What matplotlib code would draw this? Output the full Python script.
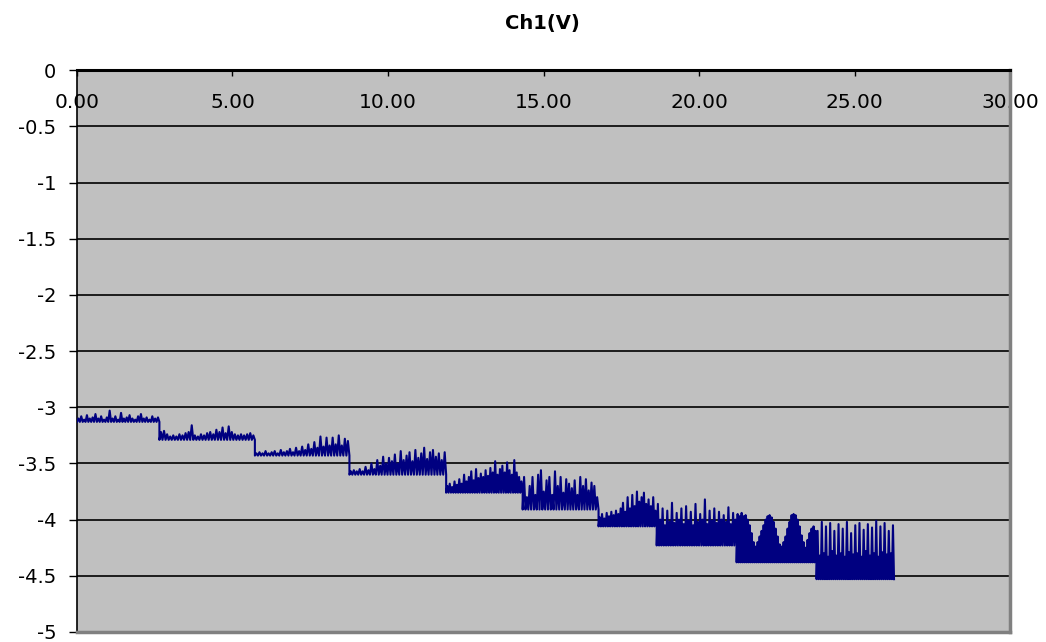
import numpy as np
import matplotlib
matplotlib.use("Agg")
import matplotlib.pyplot as plt

plt.rcParams['font.family'] = ['DejaVu Sans']

# step segments: start time, end time, baseline (lower edge) level
seg_start = [0.00, 2.65, 5.72, 8.76, 11.87, 14.33, 16.77, 18.64, 21.21, 23.78]
seg_end = [2.65, 5.72, 8.76, 11.87, 14.33, 16.77, 18.64, 21.21, 23.78, 26.27]
seg_base = [-3.13, -3.29, -3.43, -3.60, -3.76, -3.91, -4.06, -4.23, -4.38, -4.53]

# spike tops, segment by segment
tops_1 = [-3.10, -3.08, -3.11, -3.07, -3.10, -3.09, -3.06, -3.10, -3.08, -3.11,
          -3.09, -3.03, -3.10, -3.08, -3.11, -3.05, -3.10, -3.09, -3.07, -3.10,
          -3.11, -3.08, -3.06, -3.10, -3.09, -3.11, -3.08, -3.10, -3.09]
tops_2 = [-3.22, -3.21, -3.24, -3.26, -3.25, -3.26, -3.24, -3.25, -3.23, -3.22,
          -3.16, -3.25, -3.26, -3.24, -3.25, -3.23, -3.22, -3.24, -3.20, -3.22,
          -3.18, -3.23, -3.17, -3.22, -3.24, -3.25, -3.24, -3.25, -3.24, -3.23,
          -3.25]
tops_3 = [-3.41, -3.40, -3.41, -3.39, -3.41, -3.40, -3.39, -3.41, -3.38, -3.40,
          -3.39, -3.37, -3.40, -3.36, -3.39, -3.35, -3.38, -3.33, -3.37, -3.31,
          -3.36, -3.26, -3.35, -3.27, -3.34, -3.27, -3.33, -3.25, -3.34, -3.28,
          -3.30]
tops_4 = [-3.57, -3.56, -3.57, -3.55, -3.57, -3.53, -3.56, -3.50, -3.55, -3.47,
          -3.52, -3.44, -3.50, -3.45, -3.48, -3.42, -3.50, -3.39, -3.47, -3.43,
          -3.40, -3.48, -3.38, -3.45, -3.41, -3.36, -3.46, -3.40, -3.38, -3.44,
          -3.41, -3.47, -3.40]
tops_5 = [-3.70, -3.68, -3.71, -3.66, -3.69, -3.64, -3.68, -3.60, -3.66, -3.62,
          -3.57, -3.65, -3.55, -3.63, -3.59, -3.62, -3.56, -3.61, -3.54, -3.58,
          -3.48, -3.60, -3.55, -3.52, -3.58, -3.49, -3.56, -3.60, -3.47, -3.58,
          -3.62, -3.66]
tops_6 = [-3.62, -3.80, -3.70, -3.62, -3.78, -3.60, -3.56, -3.75, -3.65, -3.62,
          -3.78, -3.57, -3.70, -3.62, -3.76, -3.64, -3.68, -3.72, -3.65, -3.78,
          -3.62, -3.70, -3.64, -3.74, -3.67, -3.70, -3.80]
tops_7 = [-3.98, -3.95, -3.99, -3.94, -3.97, -3.93, -3.96, -3.92, -3.95, -3.90,
          -3.85, -3.93, -3.80, -3.90, -3.78, -3.88, -3.75, -3.84, -3.80, -3.76,
          -3.86, -3.82, -3.88, -3.80, -3.92]
tops_8 = [-3.86, -4.00, -3.90, -4.05, -3.92, -4.02, -3.85, -4.03, -3.94, -4.00,
          -3.90, -4.04, -3.88, -4.01, -3.93, -4.05, -3.86, -4.02, -3.95, -4.00,
          -3.82, -4.04, -3.92, -4.01, -3.90, -4.03, -3.93, -4.00, -3.96, -4.02,
          -3.89, -4.04, -3.94, -4.00]
tops_9 = [-3.95, -3.97, -3.94, -3.97, -3.96, -4.00, -4.05, -4.12, -4.20, -4.24,
          -4.20, -4.15, -4.10, -4.05, -4.00, -3.97, -3.96, -3.98, -4.02, -4.08,
          -4.15, -4.22, -4.24, -4.20, -4.15, -4.08, -4.02, -3.96, -3.95, -3.96,
          -4.00, -4.06, -4.14, -4.20, -4.25, -4.18, -4.12, -4.08, -4.06, -4.10]
tops_10 = [-4.10, -4.32, -4.02, -4.30, -4.06, -4.33, -4.03, -4.28, -4.10, -4.32,
           -4.04, -4.30, -4.08, -4.33, -4.02, -4.29, -4.12, -4.31, -4.05, -4.30,
           -4.03, -4.33, -4.09, -4.28, -4.04, -4.32, -4.07, -4.30, -4.01, -4.33,
           -4.06, -4.29, -4.03, -4.31, -4.10, -4.30, -4.05]
seg_tops = [tops_1, tops_2, tops_3, tops_4, tops_5, tops_6, tops_7, tops_8,
            tops_9, tops_10]

y_ticks = [0, -0.5, -1, -1.5, -2, -2.5, -3, -3.5, -4, -4.5, -5]
y_labels = ["0", "-0.5", "-1", "-1.5", "-2", "-2.5", "-3", "-3.5", "-4", "-4.5", "-5"]
x_ticks = [0, 5, 10, 15, 20, 25, 30]
x_labels = ["0.00", "5.00", "10.00", "15.00", "20.00", "25.00", "30.00"]

# build trace: baseline, top, baseline, top ... inside each segment
t_all = []
v_all = []
for s, e, b, tops in zip(seg_start, seg_end, seg_base, seg_tops):
    n = len(tops)
    t = np.linspace(s, e, 2 * n + 1)
    v = [b]
    for tp in tops:
        v.append(tp)
        v.append(b)
    t_all.extend(t)
    v_all.extend(v)

fig = plt.figure(figsize=(10.46, 6.42), dpi=100)
ax = fig.add_axes([0.0736, 0.0156, 0.892, 0.875])
ax.set_facecolor("#C0C0C0")

for yt in y_ticks[1:-1]:
    ax.axhline(yt, color="black", lw=1.2, zorder=1)

ax.plot(t_all, v_all, color="#000080", lw=1.5, zorder=3)

ax.set_xlim(0, 30)
ax.set_ylim(-5, 0)
ax.set_yticks(y_ticks)
ax.set_yticklabels(y_labels, fontsize=14)
ax.set_xticks(x_ticks)
ax.set_xticklabels(x_labels, fontsize=14.5)

ax.tick_params(axis="y", direction="out", length=6, width=1, pad=9)
ax.tick_params(axis="x", bottom=False, labelbottom=False, top=True, labeltop=True,
               direction="in", length=4, width=1, pad=-30)

ax.spines["left"].set_color("black")
ax.spines["left"].set_linewidth(1.2)
ax.spines["top"].set_color("black")
ax.spines["top"].set_linewidth(2.2)
ax.spines["right"].set_color("#808080")
ax.spines["right"].set_linewidth(2.5)
ax.spines["bottom"].set_color("#808080")
ax.spines["bottom"].set_linewidth(2.5)

fig.text(0.519, 0.964, "Ch1(V)", ha="center", va="center", fontsize=14,
         fontweight="bold")

fig.savefig("out.png", dpi=100)
